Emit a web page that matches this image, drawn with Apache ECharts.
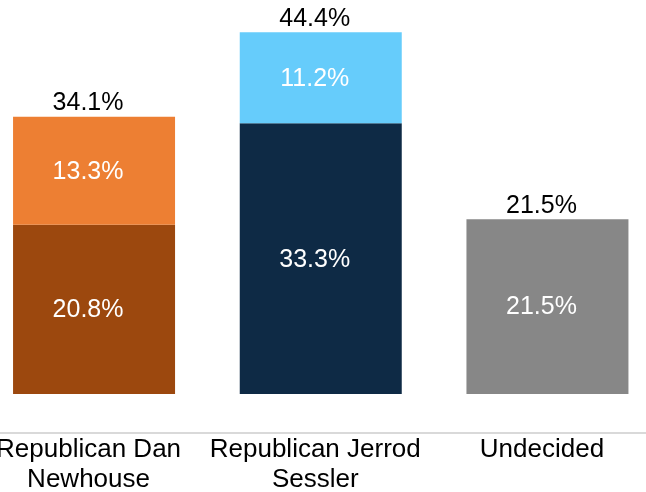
<!DOCTYPE html>
<html>
<head>
<meta charset="utf-8">
<script src="https://cdn.jsdelivr.net/npm/echarts@6/dist/echarts.min.js"></script>
<style>html,body{margin:0;padding:0;background:#fff}#c{width:646px;height:492px}</style>
</head>
<body>
<div id="c"></div>
<script>
const categories = ['Republican Dan\nNewhouse', 'Republican Jerrod\nSessler', 'Undecided'];
const baseValues = [20.8, 33.3, 21.5];
const topValues = [13.3, 11.2, 0];
const totals = [34.1, 44.4, 21.5];
const baseColors = ['#9C480E', '#0E2A45', '#878787'];
const topColors = ['#ED7F33', '#66CCFB', '#878787'];

const font = 'Liberation Sans, Arial, Helvetica, sans-serif';
const chart = echarts.init(document.getElementById('c'));
chart.setOption({
  animation: false,
  grid: { left: -19.3, right: -14.8, top: 3.7, bottom: 98, containLabel: false, outerBoundsMode: 'none' },
  xAxis: {
    type: 'category',
    data: categories,
    offset: 39,
    axisLine: { show: true, onZero: false, lineStyle: { color: '#d9d9d9', width: 2 } },
    axisTick: { show: false },
    axisLabel: { color: '#000', fontFamily: font, fontSize: 26, lineHeight: 30, margin: 2, interval: 0, padding: [0, 11, 0, 0] }
  },
  yAxis: { type: 'value', min: 0, max: 48, show: false, splitLine: { show: false } },
  series: [
    {
      type: 'bar', stack: 's', barWidth: 162,
      data: baseValues.map((v, i) => ({ value: v, itemStyle: { color: baseColors[i] } })),
      label: { show: true, position: 'inside', offset: [-6, 1], color: '#fff', fontFamily: font, fontSize: 25, formatter: p => p.value.toFixed(1) + '%' }
    },
    {
      type: 'bar', stack: 's', barWidth: 162,
      data: topValues.map((v, i) => ({ value: v, itemStyle: { color: topColors[i] } })),
      label: { show: true, position: 'inside', offset: [-6, 1], color: '#fff', fontFamily: font, fontSize: 25, formatter: p => p.value ? p.value.toFixed(1) + '%' : '' }
    },
    {
      type: 'bar', stack: 's', barWidth: 162,
      data: totals.map(() => 0),
      itemStyle: { color: 'transparent' },
      label: { show: true, position: 'top', distance: 1, offset: [-6, 0], color: '#000', fontFamily: font, fontSize: 25, formatter: p => totals[p.dataIndex].toFixed(1) + '%' }
    }
  ]
});
</script>
</body>
</html>
